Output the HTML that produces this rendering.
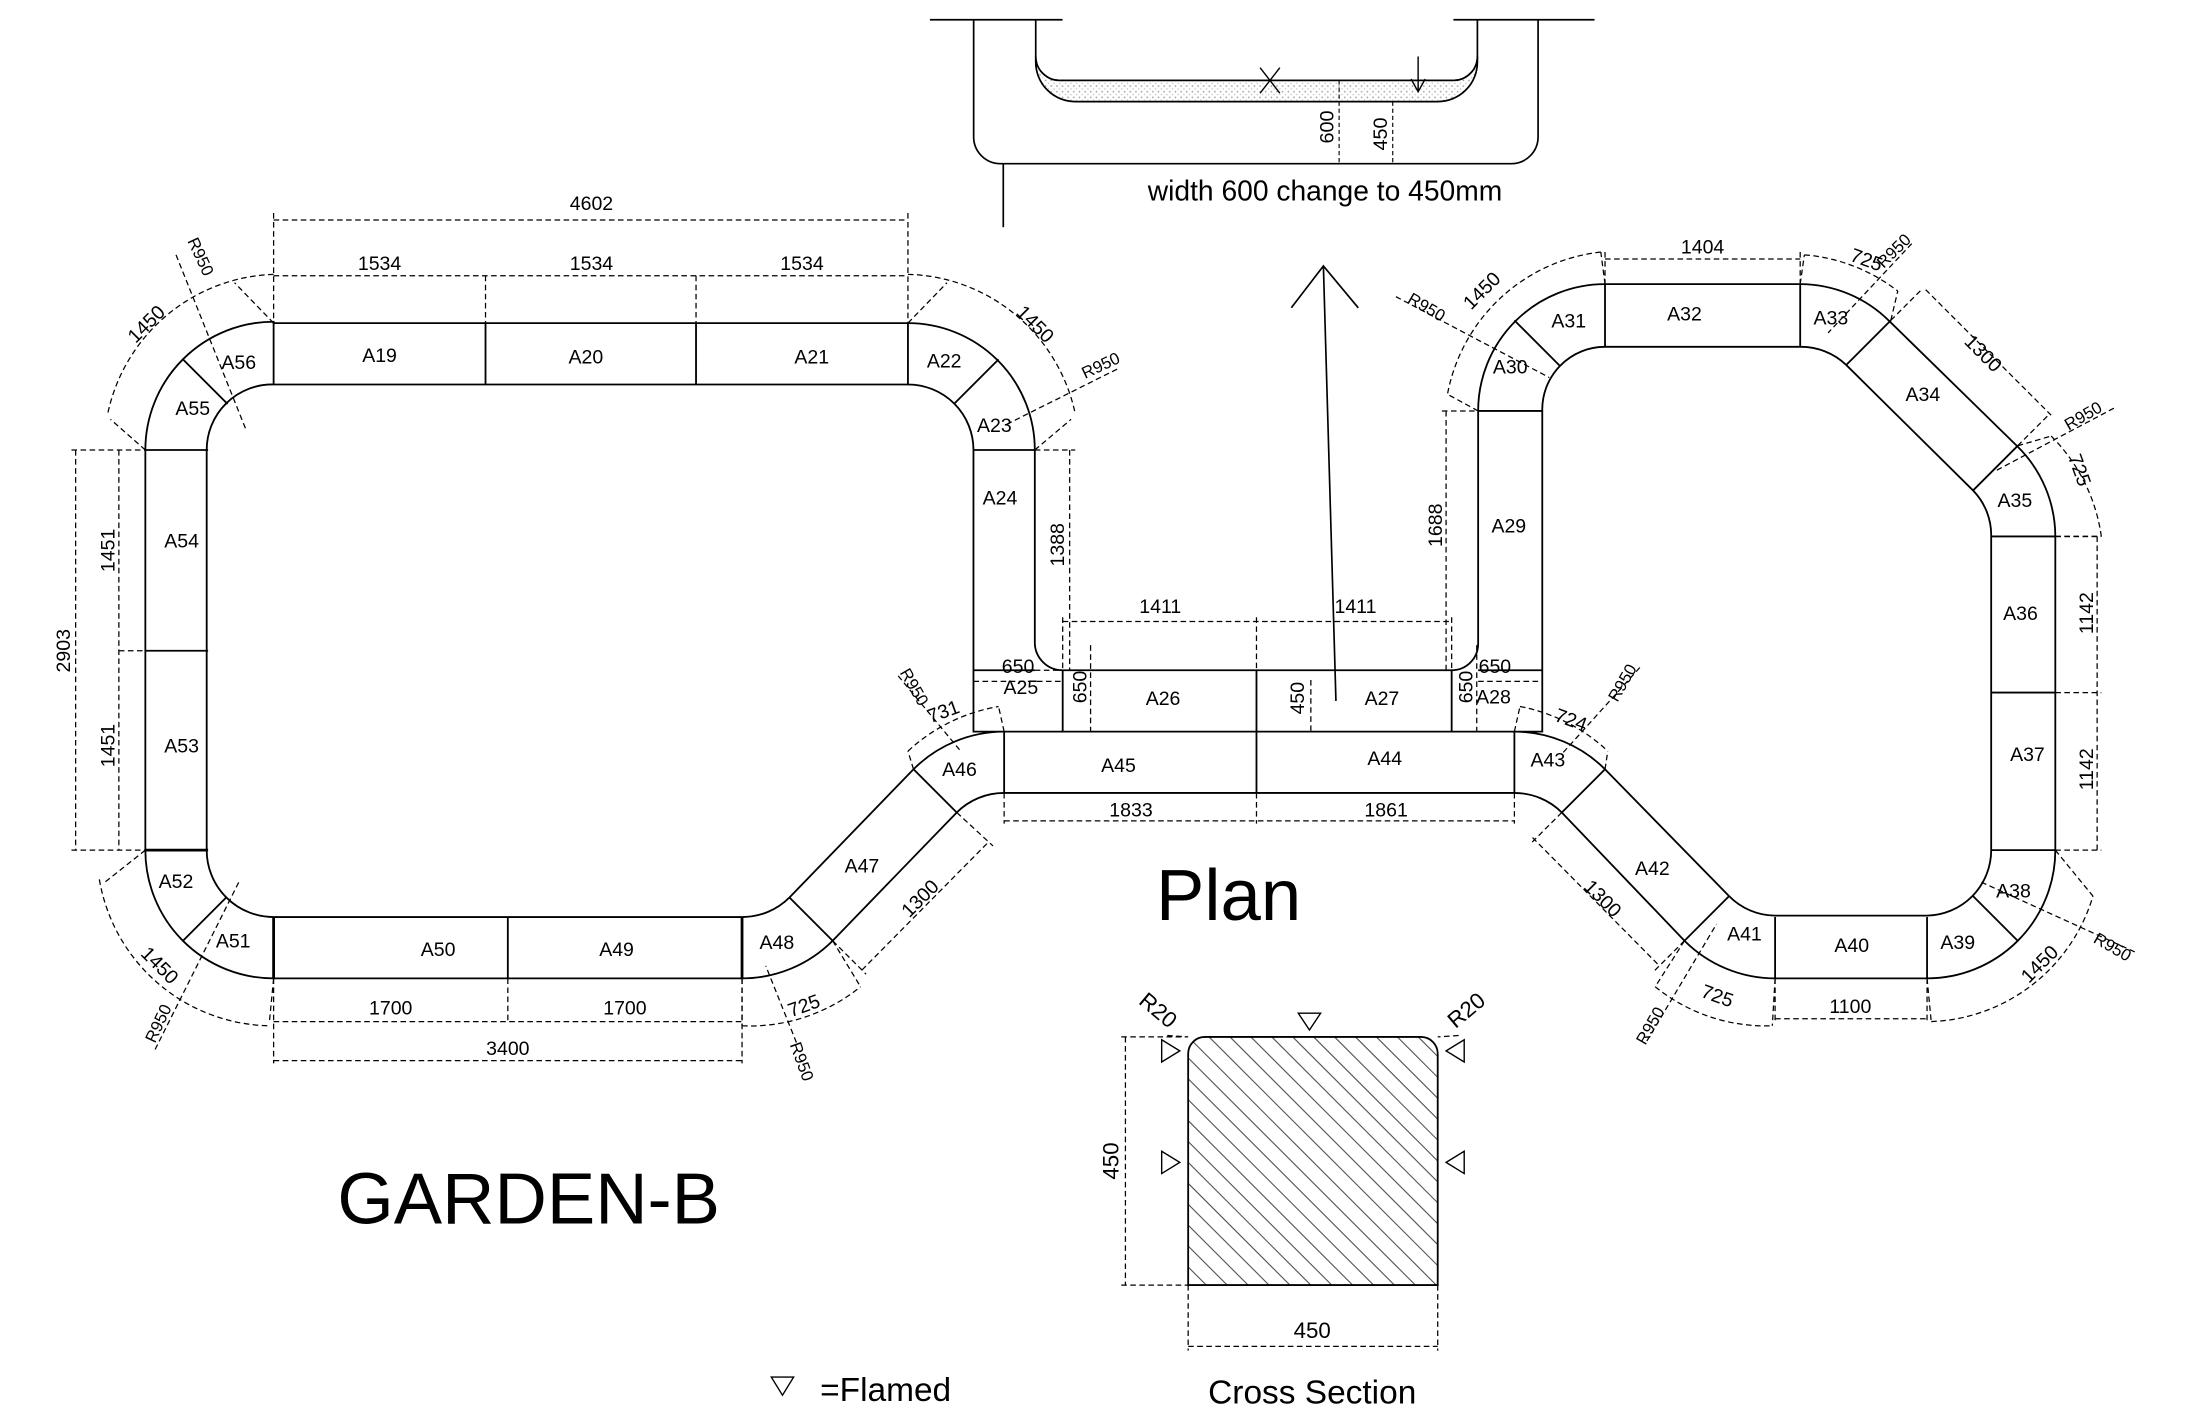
<!DOCTYPE html>
<html><head><meta charset="utf-8"><style>html,body{margin:0;padding:0;background:#fff;width:2190px;height:1428px;overflow:hidden}svg{display:block}</style></head>
<body>
<svg xmlns="http://www.w3.org/2000/svg" width="2190" height="1428" viewBox="0 0 1552 1012" font-family="Liberation Sans, sans-serif" fill="none" stroke="#000">
<defs>
<clipPath id="cs"><path d="M851,919 V753 A12,12 0 0 1 863,741 H1018 A12,12 0 0 1 1030,753 V919 Z"/></clipPath>
<pattern id="dots" width="4" height="4" patternUnits="userSpaceOnUse"><rect width="4" height="4" fill="#fff" stroke="none"/><circle cx="1" cy="1" r="0.6" fill="#999" stroke="none"/><circle cx="3" cy="3" r="0.5" fill="#bbb" stroke="none"/></pattern>
</defs>
<g stroke-width="1.2">
<path d="M659,14 H753 M1030,14 H1130"/>
<path d="M690,14 V97 A19,19 0 0 0 709,116 H1071 A19,19 0 0 0 1090,97 V14"/>
<path d="M734,14 V40 A17,17 0 0 0 751,57 H1030 A17,17 0 0 0 1047,40 V14"/>
<path d="M734,44 A28,28 0 0 0 762,72 H1019 A28,28 0 0 0 1047,44 V40 A17,17 0 0 1 1030,57 H751 A17,17 0 0 1 734,40 Z" fill="url(#dots)"/>
<path d="M711,116 V161"/>
<path d="M893,48 L907,66 M907,48 L893,66" stroke-width="1"/>
<path d="M1005,40 V65 M1000,56 L1005,65 L1010,56" stroke-width="1"/>
<path d="M949,57 V116 M987,72 V116" stroke-width="0.8" stroke-dasharray="3,2"/>
<g fill="#000" stroke="none" font-size="14">
<text transform="translate(945,90) rotate(-90)" text-anchor="middle">600</text>
<text transform="translate(983,95) rotate(-90)" text-anchor="middle">450</text>
</g>
<text x="939" y="142" font-size="20" fill="#000" stroke="none" text-anchor="middle">width 600 change to 450mm</text>
</g>

<g transform="translate(103,229) scale(0.988) translate(-103,-229)">
<g stroke-width="1.3">
<path d="M195,229 H650 A91,91 0 0 1 741,320 V458 A20,20 0 0 0 761,478 H1040 A19,19 0 0 0 1059,459 V292 A91,91 0 0 1 1150,201 H1290 A91,91 0 0 1 1354,227.6 L1446,317.6 A91,91 0 0 1 1473,382 V607 A92,92 0 0 1 1381,699 H1272 A92,92 0 0 1 1207,672 L1119,580 A48,48 0 0 0 1085,566 H719 A48,48 0 0 0 685,580 L596,672 A92,92 0 0 1 531,699 H195 A92,92 0 0 1 103,607 V320 A92,92 0 0 1 195,228 Z"/>
<path d="M195,273 H650 A47,47 0 0 1 697,320 V522 H719 A92,92 0 0 0 654,549 L565,641 A48,48 0 0 1 531,655 H195 A48,48 0 0 1 147,607 V320 A47,47 0 0 1 195,273 Z"/>
<path d="M1150,246 H1290 A47,47 0 0 1 1323,259 L1414,349 A46,46 0 0 1 1427,382 V607 A47,47 0 0 1 1381,654 H1272 A47,47 0 0 1 1239,640 L1150,549 A92,92 0 0 0 1085,522 H1105 V292 A45,45 0 0 1 1150,246 Z"/>
<path d="M719,522 H1085"/>
<path d="M347,229 V273 M498,229 V273 M195,229 V273 M650,229 V273 M162,287 L130,255 M103,320 H148 M103,464 H148 M161,641 L130,672 M363,655 V699 M565,641 L596,672 M654,549 L685,580 M719,522 V566 M900,478 V566 M1085,522 V566 M1150,549 L1119,580 M1239,640 L1207,672 M1272,655 V699 M1381,655 V699 M1414,640 L1446,672 M1427,607 H1473 M1427,494 H1473 M1427,382 H1473 M1414,349 L1446,317 M1323,259 L1355,227 M1290,201 V246 M1150,201 V246 M1118,260 L1085,227 M1059,292 H1105 M1059,478 H1105 M1040,478 V522 M761,478 V522 M697,478 H741 M697,320 H741 M683,287 L715,255"/>
<path d="M103,607 H148 M195,655 V699 M531,655 V699" stroke-width="2"/>
</g>
<g fill="#000" stroke="none" font-size="14" text-anchor="middle">
<text x="271" y="257">A19</text><text x="419" y="258">A20</text><text x="581" y="258">A21</text><text x="676" y="261">A22</text>
<text x="712" y="307">A23</text><text x="716" y="359">A24</text><text x="731" y="495">A25</text><text x="833" y="503">A26</text>
<text x="990" y="503">A27</text><text x="1070" y="502">A28</text><text x="1081" y="379">A29</text><text x="1082" y="265">A30</text>
<text x="1124" y="232">A31</text><text x="1207" y="227">A32</text><text x="1312" y="230">A33</text><text x="1378" y="285">A34</text>
<text x="1444" y="361">A35</text><text x="1448" y="442">A36</text><text x="1453" y="543">A37</text><text x="1443" y="641">A38</text>
<text x="1403" y="678">A39</text><text x="1327" y="680">A40</text><text x="1250" y="672">A41</text><text x="1184" y="625">A42</text>
<text x="1109" y="547">A43</text><text x="992" y="546">A44</text><text x="801" y="551">A45</text><text x="687" y="554">A46</text>
<text x="617" y="623">A47</text><text x="556" y="678">A48</text><text x="441" y="683">A49</text><text x="313" y="683">A50</text>
<text x="166" y="677">A51</text><text x="125" y="634">A52</text><text x="129" y="537">A53</text><text x="129" y="390">A54</text>
<text x="137" y="295">A55</text><text x="170" y="262">A56</text>
</g>
<g stroke-width="0.9" stroke-dasharray="4,2.5">
<path d="M195,150 V229 M650,150 V229 M195,155 H650 M195,195 H650 M347,195 V229 M498,195 V229"/>
<path d="M50,320 H103 M50,607 H103 M84,464 H103 M53,320 V607 M84,320 V607"/>
<path d="M195,699 V760 M531,699 V760 M363,699 V730 M195,730 H531 M195,758 H531"/>
<path d="M719,566 V588 M1085,566 V588 M900,566 V588 M719,586 H1085"/>
<path d="M761,440 V478 M1040,440 V478 M900,440 V478 M761,443 H1040"/>
<path d="M741,320 H770 M741,478 H770 M766,320 V478"/>
<path d="M1033,292 H1059 M1036,292 V478"/>
<path d="M697,486 H761 M781,460 V522 M1059,486 H1105 M1058,460 V522 M939,485 V522"/>
<path d="M1150,178 V201 M1290,178 V201 M1150,183 H1290"/>
<path d="M1473,382 H1506 M1473,607 H1506 M1473,494 H1506 M1503,382 V607"/>
<path d="M1272,699 V730 M1381,699 V730 M1272,728 H1381"/>
<path d="M596,672 L620,696 M685,580 L711,604 M617,693 L707,602"/>
<path d="M1119,580 L1096,603 M1207,672 L1184,695 M1098,598 L1189,690"/>
<path d="M1355,227 L1378,204 M1446,317 L1469,294 M1380,205 L1470,295"/>
<path d="M195,194 A126,126 0 0 0 76,294 M195,229 L167,200 M103,320 L78,298"/>
<path d="M650,194 A126,126 0 0 1 770,294 M650,229 L678,200 M741,320 L767,298"/>
<path d="M70,628 A126,126 0 0 0 192,733 M103,607 L74,630 M195,699 L192,730"/>
<path d="M531,733 A126,126 0 0 0 616,705 M531,699 L531,733 M596,672 L616,705"/>
<path d="M650,536 A126,126 0 0 1 715,504 M654,549 L650,536 M719,522 L715,504"/>
<path d="M1089,504 A126,126 0 0 1 1152,536 M1085,522 L1089,504 M1150,549 L1152,536"/>
<path d="M1186,705 A126,126 0 0 0 1270,733 M1207,672 L1186,705 M1272,699 L1270,733"/>
<path d="M1384,730 A126,126 0 0 0 1500,640 M1381,699 L1384,730 M1473,607 L1500,640"/>
<path d="M1470,310 A126,126 0 0 1 1506,382 M1446,317 L1470,310 M1473,382 L1506,382"/>
<path d="M1293,180 A126,126 0 0 1 1360,206 M1290,201 L1293,180 M1355,227 L1360,206"/>
<path d="M1147,178 A126,126 0 0 0 1037,280 M1150,201 L1147,178 M1059,292 L1037,280"/>
<path d="M125,180 L175,305 M800,262 L720,302 M110,750 L170,630 M570,745 L548,690 M643,482 L687,535 M1175,476 L1120,537 M1180,744 L1230,660 M1530,680 L1420,630 M1515,290 L1430,335 M1370,172 L1310,236 M1000,210 L1110,268"/>
</g>
<g fill="#000" stroke="none" font-size="14" text-anchor="middle">
<text x="423" y="148">4602</text>
<text x="271" y="191">1534</text><text x="423" y="191">1534</text><text x="574" y="191">1534</text>
<text transform="translate(49,464) rotate(-90)">2903</text>
<text transform="translate(81,392) rotate(-90)">1451</text>
<text transform="translate(81,532) rotate(-90)">1451</text>
<text x="279" y="725">1700</text><text x="447" y="725">1700</text><text x="363" y="754">3400</text>
<text x="810" y="583">1833</text><text x="993" y="583">1861</text>
<text x="831" y="437">1411</text><text x="971" y="437">1411</text>
<text x="729" y="480">650</text><text x="1071" y="480">650</text>
<text transform="translate(778,490) rotate(-90)">650</text>
<text transform="translate(1055,490) rotate(-90)">650</text>
<text transform="translate(934,498) rotate(-90)">450</text>
<text transform="translate(762,388) rotate(-90)">1388</text>
<text transform="translate(1033,374) rotate(-90)">1688</text>
<text x="1220" y="179">1404</text>
<text transform="translate(1500,437) rotate(-90)">1142</text>
<text transform="translate(1500,549) rotate(-90)">1142</text>
<text x="1326" y="724">1100</text>
<text transform="translate(662,645) rotate(-45)">1300</text>
<text transform="translate(1145,645) rotate(45)">1300</text>
<text transform="translate(1418,254) rotate(45)">1300</text>
<text transform="translate(107,233) rotate(-45)">1450</text>
<text transform="translate(738,233) rotate(45)">1450</text>
<text transform="translate(110,693) rotate(45)">1450</text>
<text transform="translate(1065,209) rotate(-45)">1450</text>
<text transform="translate(1465,692) rotate(-45)">1450</text>
<text transform="translate(577,723) rotate(-20)">725</text>
<text transform="translate(677,512) rotate(-20)">731</text>
<text transform="translate(1124,518) rotate(20)">724</text>
<text transform="translate(1229,716) rotate(20)">725</text>
<text transform="translate(1486,336) rotate(70)">725</text>
<text transform="translate(1336,188) rotate(20)">725</text>
<g font-size="12">
<text transform="translate(139,183) rotate(65)">R950</text>
<text transform="translate(790,263) rotate(-25)">R950</text>
<text transform="translate(116,733) rotate(-65)">R950</text>
<text transform="translate(570,760) rotate(70)">R950</text>
<text transform="translate(651,492) rotate(60)">R950</text>
<text transform="translate(1166,489) rotate(-60)">R950</text>
<text transform="translate(1186,735) rotate(-60)">R950</text>
<text transform="translate(1512,680) rotate(30)">R950</text>
<text transform="translate(1495,299) rotate(-30)">R950</text>
<text transform="translate(1360,180) rotate(-45)">R950</text>
<text transform="translate(1020,221) rotate(30)">R950</text>
</g>
</g>
<path d="M948,188 L957,500 M925,218 L948,188 L973,218" stroke-width="1.2"/>
<g clip-path="url(#cs)" stroke-width="0.8" stroke="#555">
<path d="M851,741 l178,178 M866,741 l178,178 M881,741 l178,178 M896,741 l178,178 M911,741 l178,178 M926,741 l178,178 M941,741 l178,178 M956,741 l178,178 M971,741 l178,178 M986,741 l178,178 M1001,741 l178,178 M1016,741 l178,178 M851,756 l178,178 M851,771 l178,178 M851,786 l178,178 M851,801 l178,178 M851,816 l178,178 M851,831 l178,178 M851,846 l178,178 M851,861 l178,178 M851,876 l178,178 M851,891 l178,178 M851,906 l178,178"/>
</g>
<path d="M851,919 V753 A12,12 0 0 1 863,741 H1018 A12,12 0 0 1 1030,753 V919 Z" stroke-width="1.3"/>
<path d="M930,724 H946 L938,736 Z M832,743 V759 L845,751 Z M832,823 V839 L845,831 Z M1049,743 V759 L1036,751 Z M1049,823 V839 L1036,831 Z" stroke-width="1"/>
<path d="M803,741 H851 M803,919 H851 M806,741 V919 M851,919 V966 M1030,919 V966 M851,963 H1030 M836,740 L851,741 M1045,740 L1030,741" stroke-width="0.9" stroke-dasharray="4,2.5"/>
<g fill="#000" stroke="none" text-anchor="middle">
<text transform="translate(801,830) rotate(-90)" font-size="16">450</text>
<text x="940" y="957" font-size="16">450</text>
<text transform="translate(826,726) rotate(40)" font-size="16">R20</text>
<text transform="translate(1054,726) rotate(-40)" font-size="16">R20</text>
<text x="940" y="1004" font-size="24">Cross Section</text>
<text x="880" y="657" font-size="52">Plan</text>
<text x="378" y="875" font-size="52">GARDEN-B</text>
<text x="634" y="1002" font-size="24">=Flamed</text>
</g>
<path d="M552,985 H568 L560,998 Z" stroke-width="1"/>
</g>
</svg>
</body></html>
